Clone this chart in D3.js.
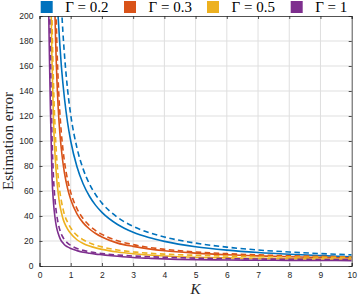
<!DOCTYPE html>
<html><head><meta charset="utf-8">
<script src="https://cdn.jsdelivr.net/npm/d3@7"></script>
<style>body{margin:0;background:#fff;} svg{display:block;}</style>
</head><body>
<svg id="c" width="359" height="297"></svg>
<script>
const K = [0.28,0.3,0.32,0.35,0.4,0.45,0.5,0.55,0.6,0.65,0.7,0.75,0.8,0.9,1,1.2,1.4,1.6,1.8,2,2.5,3,3.5,4,5,6,7,8,9,10];
const legendLabels = ["Γ = 0.2","Γ = 0.3","Γ = 0.5","Γ = 1"];
const colors = ["#0072BD","#D95319","#EDB120","#7E2F8E"];
// solid curves
const solid02 = [619,555,502,437,357,300,257,224,198,177.5,160,146,134,114.6,100,79.4,65.6,55.8,48.5,42.9,33.2,27,22.8,19.7,15.4,12.7,10.8,9.4,8.3,7.4];
const solid03 = [null,null,null,null,455,274,197,154,126,107,93.4,82.8,74.4,62,53.2,41.7,34.5,29.6,26,23.2,18.3,15.7,13.7,12.2,10.3,9,8.1,7.4,6.9,6.5];
const solid05 = [null,400,320,240,165,115,88,70,58,49,43,38,34.5,29.5,26,21,18,16,14.5,13.3,11.2,9.8,8.8,8,7,6.5,6.1,5.8,5.6,5.4];
const solid1  = [230,195,165,125,72,50,38,30.5,26,22.5,20,18.5,17,15.3,14,12.3,11,10.2,9.5,9,7.8,6.8,6.2,5.7,5.1,4.8,4.6,4.5,4.4,4.3];
// dashed curves
const dashed02 = [null,null,null,null,782,537,410,331,277,239,210,187,169,141,121,94.5,77.5,65.6,57,50.3,38.9,31.7,26.8,23.2,18.3,15.1,12.8,11.2,9.9,8.9];
const dashed03 = [null,null,null,null,723,363,243,183.5,147.5,123.5,106.4,93.5,83.5,69,58.9,45.9,37.8,32.3,28.3,25.3,20.2,17.1,14.9,13.4,11.2,9.9,8.9,8.2,7.7,7.2];
const dashed05 = [null,600,430,300,200,145,110,87,71,60,52,46,41,35,30.5,24.5,21,18.5,16.7,15.3,12.8,11.3,10.2,9.5,8.6,8,7.6,7.3,7.1,6.9];
const dashed1  = [320,260,215,170,105,70,52,41,34,29,25.5,23,21,18.3,16.5,14,12.5,11.4,10.6,10,8.8,8,7.4,7,6.3,5.9,5.6,5.4,5.2,5.1];
const xTicks = [0,1,2,3,4,5,6,7,8,9,10];
const yTicks = [0,20,40,60,80,100,120,140,160,180,200];

const solids = [solid02, solid03, solid05, solid1];
const dasheds = [dashed02, dashed03, dashed05, dashed1];

const svg = d3.select("#c");
const L = 39.5, R = 351.7, T = 16, B = 266;
const x = d3.scaleLinear().domain([0,10]).range([L,R]);
const y = d3.scaleLinear().domain([0,200]).range([B,T]);
const axisColor = "#262626";

// grid
const g = svg.append("g");
g.selectAll(".gx").data(xTicks.slice(1,-1)).join("line")
  .attr("x1",d=>x(d)).attr("x2",d=>x(d)).attr("y1",T).attr("y2",B)
  .attr("stroke","#dfdfdf").attr("stroke-width",1);
g.selectAll(".gy").data(yTicks.slice(1,-1)).join("line")
  .attr("x1",L).attr("x2",R).attr("y1",d=>y(d)).attr("y2",d=>y(d))
  .attr("stroke","#dfdfdf").attr("stroke-width",1);

svg.append("clipPath").attr("id","clip").append("rect")
  .attr("x",L).attr("y",T).attr("width",R-L).attr("height",B-T);

const line = d3.line().defined(d=>d[1]!=null).x(d=>x(d[0])).y(d=>y(d[1])).curve(d3.curveMonotoneX);
const lines = svg.append("g").attr("clip-path","url(#clip)");
for (let i=0;i<4;i++){
  lines.append("path").datum(K.map((k,j)=>[k,solids[i][j]]))
    .attr("d",line).attr("fill","none").attr("stroke",colors[i]).attr("stroke-width",1.6);
  lines.append("path").datum(K.map((k,j)=>[k,dasheds[i][j]]))
    .attr("d",line).attr("fill","none").attr("stroke",colors[i]).attr("stroke-width",1.6)
    .attr("stroke-dasharray","5.5,3.5");
}

// axes (ticks inward)
const tickLen = 3;
const ax = svg.append("g").attr("transform",`translate(0,${B})`)
  .call(d3.axisBottom(x).tickValues(xTicks).tickSize(-tickLen).tickPadding(6).tickFormat(d3.format("d")));
const axT = svg.append("g").attr("transform",`translate(0,${T})`)
  .call(d3.axisTop(x).tickValues(xTicks).tickSize(-tickLen).tickFormat(""));
const ay = svg.append("g").attr("transform",`translate(${L},0)`)
  .call(d3.axisLeft(y).tickValues(yTicks).tickSize(-tickLen).tickPadding(6).tickFormat(d3.format("d")));
const ayR = svg.append("g").attr("transform",`translate(${R},0)`)
  .call(d3.axisRight(y).tickValues(yTicks).tickSize(-tickLen).tickFormat(""));
[ax,axT,ay,ayR].forEach(a=>{
  a.selectAll("path").attr("stroke",axisColor).attr("stroke-width",0.8);
  a.selectAll("line").attr("stroke",axisColor).attr("stroke-width",0.8);
  a.selectAll("text").attr("fill",axisColor).style("font-family","'Liberation Sans', Arial, sans-serif").style("font-size","8.5px");
});

// axis labels
svg.append("text").attr("x",(L+R)/2).attr("y",294).attr("text-anchor","middle")
  .style("font-family","'Liberation Serif', serif").style("font-style","italic").style("font-size","15px")
  .attr("fill",axisColor).text("K");
svg.append("text").attr("transform",`translate(13,${(T+B)/2}) rotate(-90)`).attr("text-anchor","middle")
  .style("font-family","'Liberation Serif', serif").style("font-size","15px")
  .attr("fill",axisColor).text("Estimation error");

// legend
const legX = [40.7,124,207,290.7];
const leg = svg.append("g");
legendLabels.forEach((lab,i)=>{
  leg.append("rect").attr("x",legX[i]).attr("y",1).attr("width",12).attr("height",12).attr("fill",colors[i]);
  leg.append("text").attr("x",legX[i]+24.5).attr("y",12)
    .style("font-family","'Liberation Serif', serif").style("font-size","15px")
    .attr("fill","#000").text(lab);
});
</script>
</body></html>
